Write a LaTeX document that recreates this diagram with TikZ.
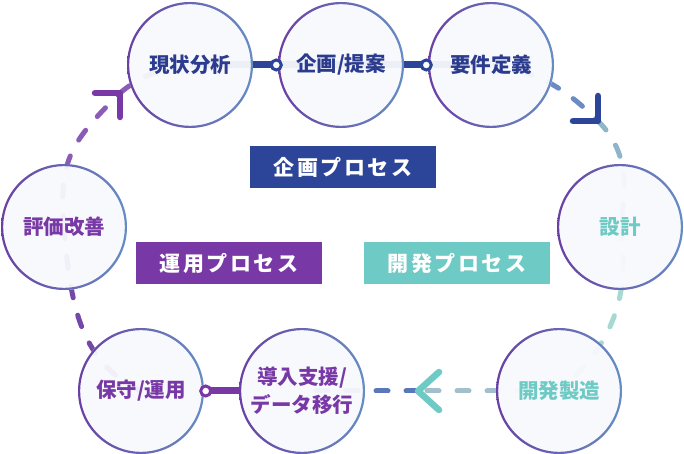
\documentclass[tikz,border=0pt]{standalone}
\usepackage{fontspec}
\newfontfamily\jpfont{Noto Sans CJK JP}
\usetikzlibrary{arrows.meta,backgrounds}

\definecolor{navyc}{HTML}{2C4599}
\definecolor{navytext}{HTML}{2B3B8E}
\definecolor{purplec}{HTML}{7838A6}
\definecolor{tealc}{HTML}{6ECAC4}
\definecolor{ringL}{HTML}{6A3FA4}
\definecolor{ringM}{HTML}{3F4CA8}
\definecolor{ringR}{HTML}{668EC4}
\definecolor{circfill}{HTML}{F8F9FD}
\definecolor{dashblue}{HTML}{6A8BC4}
\definecolor{dashgray}{HTML}{8FB5C9}
\definecolor{dashteal}{HTML}{A7D9D3}
\definecolor{dashslate}{HTML}{A3BFCB}
\definecolor{dashindigo}{HTML}{5A78B9}
\definecolor{dashpurple}{HTML}{7448A8}
\definecolor{dashlilac}{HTML}{8A5CB8}

\tikzset{
  stage/.style={circle, minimum size=126pt, inner sep=0pt, fill=circfill, fill opacity=.95,
    text opacity=1, align=center, font=\jpfont\bfseries\fontsize{20.5}{28}\selectfont,
    path picture={\shade[even odd rule, fill opacity=1, left color=ringL, middle color=ringM, right color=ringR]
      (path picture bounding box.center) circle (64pt) (path picture bounding box.center) circle (60.8pt);}},
  procbox/.style={minimum width=186pt, minimum height=42pt, inner sep=0pt, text=white,
    font=\jpfont\bfseries\fontsize{21}{24}\selectfont\addfontfeatures{LetterSpace=12}},
  ring/.style={line width=5pt, line cap=round, dash pattern=on 12pt off 18pt},
  bar/.style={line width=7pt},
  knob/.style={-{Circle[fill=white,length=13pt,line width=3pt]}, shorten >=-5pt},
  chevline/.style={line width=6.5pt, line cap=round, line join=round},
}

\begin{document}
\begin{tikzpicture}[x=1pt,y=1pt]
  \useasboundingbox (0,0) rectangle (684,454);
  % 企画
  \node[stage, text=navytext] (analysis) at (190,389) {現状分析};
  \node[stage, text=navytext] (plan) at (341,389) {企画/提案};
  \node[stage, text=navytext] (require) at (491,389) {要件定義};
  % 開発
  \node[stage, text=tealc] (design) at (620,227) {設計};
  \node[stage, text=tealc] (build) at (559,63) {開発製造};
  % 運用
  \node[stage, text=purplec] (deploy) at (302,63) {導入支援/\\データ移行};
  \node[stage, text=purplec] (operate) at (141,63) {保守/運用};
  \node[stage, text=purplec] (improve) at (64,227) {評価改善};
  % プロセス名
  \node[procbox, fill=navyc] (planproc) at (343,287) {企画プロセス};
  \node[procbox, fill=purplec] (opproc) at (229,191) {運用プロセス};
  \node[procbox, fill=tealc] (devproc) at (457,191) {開発プロセス};
  % 矢印の位置
  \coordinate (cdTurn) at (598,333);
  \coordinate (efTurn) at (418,63);
  \coordinate (haTurn) at (120,361);
  % 円の後ろの線
  \begin{scope}[on background layer]
    \draw[bar, navyc] (analysis.center) -- (plan.center) -- (require.center);
    \draw[ring, dashblue] (require.center) to[out=-8,in=135] (cdTurn);
    \draw[ring, dashgray] (cdTurn) to[out=-45,in=80] (design.center);
    \draw[ring, dashteal] (design.center) to[out=-80,in=40] (build.center);
    \draw[ring, dashslate] (build.center) -- (efTurn);
    \draw[ring, dashindigo] (efTurn) -- (deploy.center);
    \draw[ring, dashpurple] (operate.center) to[out=155,in=-85] (improve.center);
    \draw[ring, dashlilac] (improve.center) to[out=95,in=225,looseness=1.2] (haTurn);
    \draw[ring, dashlilac] (haTurn) to[out=40,in=190] (analysis.center);
  \end{scope}
  % 矢じり
  \draw[chevline, navyc] ([xshift=-25pt]cdTurn) -- (cdTurn) -- ([yshift=25pt]cdTurn);
  \draw[chevline, tealc] ([shift={(21pt,19pt)}]efTurn) -- (efTurn) -- ([shift={(21pt,-19pt)}]efTurn);
  \draw[chevline, purplec] ([xshift=-25pt]haTurn) -- (haTurn) -- ([yshift=-24pt]haTurn);
  % つなぎ
  \draw[bar, navyc, knob] (analysis) -- (plan);
  \draw[bar, navyc, knob] (plan) -- (require);
  \draw[bar, purplec, knob] (deploy) -- (operate);
\end{tikzpicture}
\end{document}
